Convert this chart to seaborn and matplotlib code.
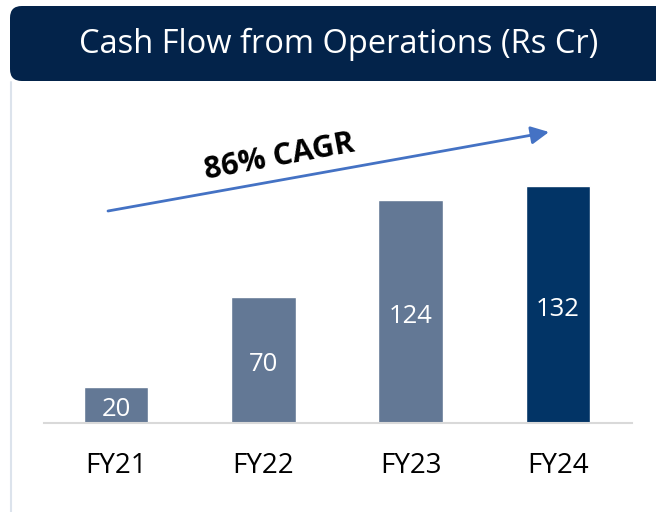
import matplotlib
matplotlib.use("Agg")
import matplotlib.pyplot as plt
import seaborn as sns
import pandas as pd
from matplotlib.patches import FancyBboxPatch
from matplotlib.lines import Line2D

categories = ["FY21", "FY22", "FY23", "FY24"]
values = [20, 70, 124, 132]
bar_colors = ["#637895", "#637895", "#637895", "#023466"]
title = "Cash Flow from Operations (Rs Cr)"
cagr_label = "86% CAGR"

sns.set_theme(style="white")
plt.rcParams["font.family"] = ["Open Sans", "DejaVu Sans"]

W, H = 656, 512
fig = plt.figure(figsize=(W / 100, H / 100), dpi=100)
fig.patch.set_facecolor("white")

def fx(px):
    return px / W

def fy(py):
    return 1 - py / H

# banner
banner = FancyBboxPatch((fx(10), fy(81)), fx(700), (81 - 6) / H,
                        boxstyle="round,pad=0,rounding_size=0.018",
                        transform=fig.transFigure, facecolor="#03234A",
                        edgecolor="none", mutation_aspect=W / H, zorder=1)
fig.patches.append(banner)
fig.text(fx(339), fy(44), title, color="white", fontsize=23.5,
         ha="center", va="center", zorder=3)

# panel left border
fig.add_artist(Line2D([fx(10.5), fx(10.5)], [fy(82), fy(512)],
                      transform=fig.transFigure, color="#DCE3EC", lw=1.5))

ax = fig.add_axes([fx(44), fy(423), fx(632) - fx(44), (423 - 90) / H])
df = pd.DataFrame({"cat": categories, "val": values})
sns.barplot(data=df, x="cat", y="val", hue="cat", palette=bar_colors,
            width=0.44, saturation=1, legend=False, ax=ax)
ax.set_xlim(-0.489, 3.502)
ax.set_ylim(0, 185.5)
ax.set_xlabel("")
ax.set_ylabel("")
ax.set_yticks([])
for s in ["top", "right", "left"]:
    ax.spines[s].set_visible(False)
ax.spines["bottom"].set_color("#D9D9D9")
ax.spines["bottom"].set_linewidth(1.5)
ax.tick_params(axis="x", length=0, pad=21, labelsize=20, labelcolor="black")
ax.patch.set_alpha(0)

for i, v in enumerate(values):
    ax.text(i, v / 2 - 2.5, str(v), color="white", fontsize=18.5,
            ha="center", va="center")

# CAGR arrow
ax.annotate("", xy=(fx(549), fy(132)), xytext=(fx(108), fy(211)),
            xycoords="figure fraction", textcoords="figure fraction",
            arrowprops=dict(arrowstyle="-|>,head_length=0.9,head_width=0.45",
                        color="#4472C4", lw=2, shrinkA=0, shrinkB=0))
fig.text(fx(279), fy(157), cagr_label, fontsize=22, fontweight="bold",
         color="black", rotation=10.5, ha="center", va="center",
         rotation_mode="anchor")

fig.savefig("out.png", dpi=100)
